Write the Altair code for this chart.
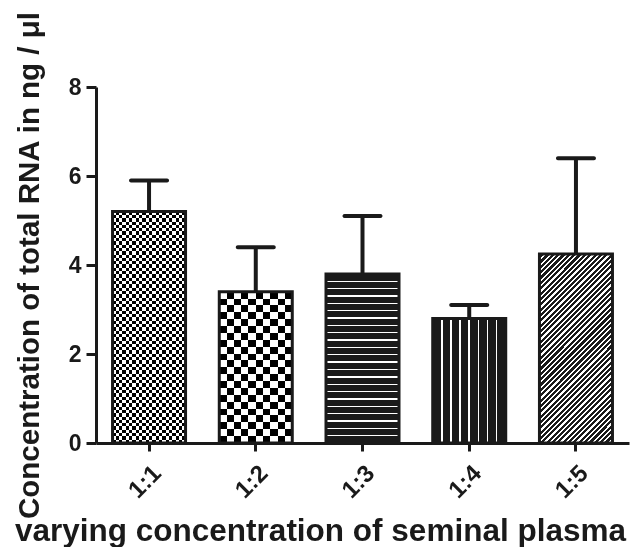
import altair as alt
import pandas as pd

categories = ["1:1", "1:2", "1:3", "1:4", "1:5"]
means = [5.2, 3.4, 3.8, 2.8, 4.25]
upper = [5.9, 4.4, 5.1, 3.1, 6.4]
y_ticks = [0, 2, 4, 6, 8]

df = pd.DataFrame({"cat": categories, "mean": means, "upper": upper})

INK = "#1a1a1a"
FONT = "Liberation Sans"


def alternating(n, c1, c2):
    stops = []
    for i in range(n):
        col = c1 if i % 2 == 0 else c2
        stops.append({"offset": i / n, "color": col})
        stops.append({"offset": (i + 1) / n, "color": col})
    return stops


def thin_lines(n, half, bg, fg):
    stops = [{"offset": 0, "color": bg}]
    for k in range(1, n):
        c = k / n
        stops += [
            {"offset": c - half, "color": bg},
            {"offset": c - half, "color": fg},
            {"offset": c + half, "color": fg},
            {"offset": c + half, "color": bg},
        ]
    stops.append({"offset": 1, "color": bg})
    return stops


def bands(n, frac, c1, c2):
    stops = []
    for i in range(n):
        a = i / n
        m = (i + frac) / n
        b = (i + 1) / n
        stops += [
            {"offset": a, "color": c1},
            {"offset": m, "color": c1},
            {"offset": m, "color": c2},
            {"offset": b, "color": c2},
        ]
    return stops


def grad(stops, x2, y2):
    return {"gradient": "linear", "x1": 0, "y1": 0, "x2": x2, "y2": y2, "stops": stops}


x_enc = alt.X(
    "cat:N",
    sort=categories,
    scale=alt.Scale(paddingInner=0.316, paddingOuter=0.155),
    axis=alt.Axis(
        title="varying concentration of seminal plasma",
        labelAngle=-45,
        labelFontSize=24,
        labelFont=FONT,
        labelFontWeight="bold",
        labelColor=INK,
        labelPadding=10,
        tickSize=8,
        tickWidth=3,
        tickColor=INK,
        domainWidth=3,
        domainColor=INK,
        titleFontSize=31.5,
        titleFont=FONT,
        titleFontWeight="bold",
        titleColor=INK,
        titleX=224,
        titleY=97,
        titleBaseline="alphabetic",
        titleAlign="center",
    ),
)
y_enc = alt.Y(
    "mean:Q",
    scale=alt.Scale(domain=[0, 8], nice=False),
    axis=alt.Axis(
        title="Concentration of total RNA in ng / \u03bcl",
        values=y_ticks,
        labelFontSize=23,
        labelFont=FONT,
        labelFontWeight="bold",
        labelColor=INK,
        labelPadding=5,
        tickSize=10,
        tickWidth=3,
        tickColor=INK,
        domainWidth=3,
        domainColor=INK,
        grid=False,
        titleFontSize=29.5,
        titleFont=FONT,
        titleFontWeight="bold",
        titleColor=INK,
        titleX=-58,
        titleY=178,
        titleAngle=270,
        titleBaseline="alphabetic",
        titleAlign="center",
    ),
)

base = alt.Chart(df)

err_rule = base.mark_rule(color=INK, strokeWidth=4).encode(x=x_enc, y=y_enc, y2="upper:Q")
err_cap = base.mark_tick(color=INK, size=40, thickness=4, cornerRadius=2, opacity=1).encode(
    x=x_enc, y=alt.Y("upper:Q")
)


def bar_layer(cat, fill, blend=None):
    kw = dict(fill=fill, strokeWidth=0)
    if blend:
        kw["blend"] = blend
    return base.transform_filter(alt.datum.cat == cat).mark_bar(**kw).encode(x=x_enc, y=y_enc)


layers = [
    err_rule,
    # 1:1 fine checkerboard
    bar_layer("1:1", grad(alternating(22, "#000000", "#ffffff"), 1, 0)),
    bar_layer("1:1", grad(alternating(70, "#ffffff", "#000000"), 0, 1), blend="difference"),
    # 1:2 coarse checkerboard
    bar_layer("1:2", grad(alternating(10, "#000000", "#ffffff"), 1, 0)),
    bar_layer("1:2", grad(alternating(22, "#ffffff", "#000000"), 0, 1), blend="difference"),
    # 1:3 horizontal stripes
    bar_layer("1:3", grad(thin_lines(23, 0.004, INK, "#ffffff"), 0, 1)),
    # 1:4 vertical stripes
    bar_layer("1:4", grad(thin_lines(8, 0.01, INK, "#ffffff"), 1, 0)),
    # 1:5 diagonal stripes
    bar_layer("1:5", grad(bands(49, 0.42, "#ffffff", INK), 0.466, 1.206)),
    base.mark_bar(filled=False, stroke=INK, strokeWidth=3).encode(x=x_enc, y=y_enc),
    err_cap,
]

chart = (
    alt.layer(*layers)
    .properties(
        width=533,
        height=356,
        autosize=alt.AutoSizeParams(type="none"),
        padding={"left": 96, "top": 87, "right": 7, "bottom": 104},
        background="white",
    )
    .configure_view(stroke=None)
)

chart.save("out.html", embed_options={"renderer": "svg", "actions": False})
